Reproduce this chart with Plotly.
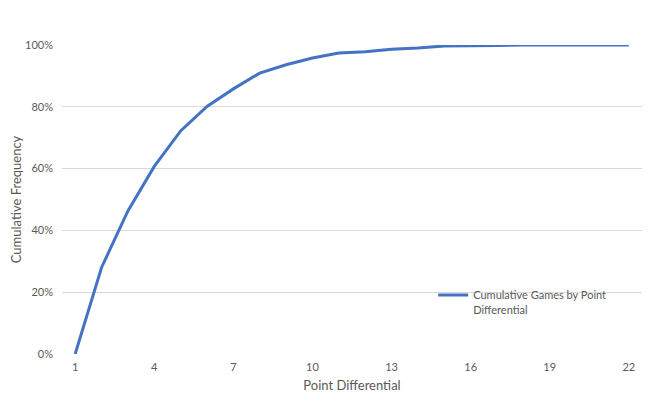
import plotly.graph_objects as go

point_diff = list(range(1, 23))
cum_freq = [0.0, 0.280, 0.463, 0.607, 0.722, 0.801, 0.858, 0.909, 0.936, 0.958,
            0.974, 0.978, 0.986, 0.990, 0.997, 0.997, 0.998, 1.0, 1.0, 1.0, 1.0, 1.0]
series_name = "Cumulative Games by Point<br>Differential"
x_ticks = [1, 4, 7, 10, 13, 16, 19, 22]
y_ticks = [0, 0.2, 0.4, 0.6, 0.8, 1.0]

font_family = "Lato, Noto Sans, sans-serif"
gray = "#595959"

fig = go.Figure()
fig.add_trace(go.Scatter(
    x=point_diff, y=cum_freq, mode="lines", name=series_name,
    line=dict(color="#4472C4", width=3),
))

fig.update_layout(
    width=644, height=406,
    margin=dict(l=54, r=10, t=37, b=60, autoexpand=False),
    paper_bgcolor="white", plot_bgcolor="white",
    font=dict(family=font_family, size=11, color=gray),
    showlegend=True,
    legend=dict(x=0.640, y=0.235, xanchor="left", yanchor="top", valign="top",
                bgcolor="rgba(0,0,0,0)", font=dict(size=11, color=gray),
                itemwidth=30, tracegroupgap=0),
)
fig.update_xaxes(
    range=[0.5, 22.5], tickmode="array", tickvals=x_ticks,
    ticktext=[str(v) for v in x_ticks], automargin=False,
    showgrid=False, zeroline=False, showline=False, ticks="",
    ticklabelstandoff=5,
    title=dict(text="Point Differential", font=dict(size=13, color=gray), standoff=8),
)
fig.update_yaxes(
    range=[0, 1.0], tickmode="array", tickvals=y_ticks, automargin=False,
    ticktext=[f"{int(round(v*100))}%" for v in y_ticks],
    showgrid=True, gridcolor="#D9D9D9", gridwidth=1, zeroline=False,
    showline=False, ticks="", ticklabelstandoff=8,
    title=dict(text="Cumulative Frequency", font=dict(size=13, color=gray), standoff=12),
)
fig.write_html("out.html")
